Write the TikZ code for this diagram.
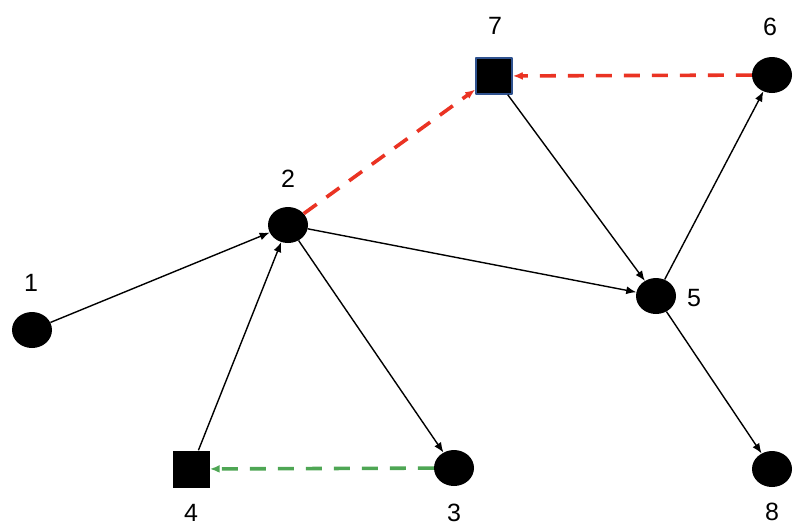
\documentclass[tikz,border=0pt]{standalone}
\usepackage{fontspec}
\setmainfont{Liberation Sans}
\usetikzlibrary{arrows.meta,shapes.geometric}
\definecolor{edgered}{RGB}{234,51,35}
\definecolor{edgegreen}{RGB}{78,166,84}
\definecolor{boxblue}{RGB}{47,82,143}
\begin{document}
\begin{tikzpicture}[x=1pt,y=-1pt,>={Latex[length=10pt,width=8pt]},line join=round,
  dot/.style={ellipse,fill=black,minimum width=40pt,minimum height=36pt,inner sep=0pt},
  sq/.style={rectangle,fill=black,minimum size=37pt,inner sep=0pt},
  lbl/.style={font=\fontsize{25}{30}\selectfont,inner sep=0pt},
  arc/.style={->,line width=1.4pt},
  redarc/.style={->,edgered,line width=3.6pt,dash pattern=on 16pt off 12pt},
  greenarc/.style={->,edgegreen,line width=3.6pt,dash pattern=on 16pt off 12pt}]
 \useasboundingbox (0,0) rectangle (810,528);
 % nodes
 \node[dot] (n1) at (32,330) {};
 \node[dot] (n2) at (288,225) {};
 \node[dot] (n3) at (454,468) {};
 \node[sq] (n4) at (191,469) {};
 \node[dot] (n5) at (656,296) {};
 \node[dot] (n6) at (772,75) {};
 \node[sq,draw=boxblue,line width=1.5pt,minimum size=36pt] (n7) at (494,76) {};
 \node[dot] (n8) at (772,469) {};
 % labels
 \node[lbl] (l1) at (31,283) {1};
 \node[lbl] (l2) at (288,179) {2};
 \node[lbl] (l3) at (454,513) {3};
 \node[lbl] (l4) at (191,513) {4};
 \node[lbl] (l5) at (694,298) {5};
 \node[lbl] (l6) at (770,27) {6};
 \node[lbl] (l7) at (495,26) {7};
 \node[lbl] (l8) at (772,512) {8};
 % edges
 \draw[arc] (n1) -- (n2);
 \draw[arc] (n4) -- (n2);
 \draw[arc] (n2) -- (n3);
 \draw[arc] (n2) -- (n5);
 \draw[arc] (n7) -- (n5);
 \draw[arc] (n5) -- (n6);
 \draw[arc] (n5) -- (n8);
 \draw[redarc] (n2) -- (n7);
 \draw[redarc] (n6) -- (n7);
 \draw[greenarc] (n3) -- (n4);
\end{tikzpicture}
\end{document}
